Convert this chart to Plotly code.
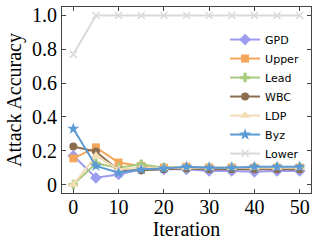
import plotly.graph_objects as go

iterations = [0, 5, 10, 15, 20, 25, 30, 35, 40, 45, 50]
gpd = [0.17, 0.04, 0.06, 0.09, 0.09, 0.09, 0.08, 0.08, 0.075, 0.08, 0.08]
upper = [0.155, 0.22, 0.13, 0.11, 0.10, 0.105, 0.10, 0.10, 0.10, 0.10, 0.10]
lead = [0.0, 0.125, 0.10, 0.12, 0.10, 0.10, 0.10, 0.10, 0.10, 0.10, 0.10]
wbc = [0.225, 0.195, 0.085, 0.085, 0.09, 0.095, 0.09, 0.09, 0.09, 0.09, 0.09]
ldp = [0.0, 0.17, 0.09, 0.10, 0.10, 0.10, 0.10, 0.10, 0.10, 0.10, 0.10]
byz = [0.33, 0.11, 0.07, 0.09, 0.095, 0.105, 0.10, 0.10, 0.105, 0.105, 0.105]
lower = [0.77, 1.0, 1.0, 1.0, 1.0, 1.0, 1.0, 1.0, 1.0, 1.0, 1.0]

y_ticks = [0, 0.2, 0.4, 0.6, 0.8, 1.0]
y_tick_labels = ["0", "0.2", "0.4", "0.6", "0.8", "1.0"]
x_ticks = [0, 10, 20, 30, 40, 50]

series = [
    ("GPD", gpd, "#9d9df0", "diamond", 9),
    ("Upper", upper, "#f5a65b", "square", 8),
    ("Lead", lead, "#a8cb7d", "cross", 8),
    ("WBC", wbc, "#8c6d4f", "circle", 8),
    ("LDP", ldp, "#f3dcb6", "triangle-up", 9),
    ("Byz", byz, "#5b9bd5", "star", 9),
    ("Lower", lower, "#d9d9d9", "x-thin", 7),
]

fig = go.Figure()
for name, vals, color, sym, size in series:
    marker = dict(symbol=sym, size=size, color=color)
    if sym == "x-thin":
        marker["line"] = dict(color=color, width=1.5)
    fig.add_trace(go.Scatter(
        x=iterations, y=vals, name=name, mode="lines+markers",
        line=dict(color=color, width=2), marker=marker,
    ))

serif = "Liberation Serif"
axis_common = dict(
    showline=True, linecolor="#444444", linewidth=1.2, mirror="ticks",
    ticks="inside", ticklen=4, tickcolor="#444444", showgrid=False, zeroline=False,
    automargin=False,
    tickfont=dict(family=serif, size=20, color="black"),
)

fig.update_layout(
    width=319, height=248,
    margin=dict(l=62, r=8, t=7, b=55),
    paper_bgcolor="white", plot_bgcolor="white",
    xaxis=dict(range=[-2.5, 52.5], tickvals=x_ticks, ticklabelstandoff=-4,
               title=dict(text="Iteration", font=dict(family=serif, size=20, color="black"), standoff=0),
               **axis_common),
    yaxis=dict(range=[-0.05, 1.05], tickvals=y_ticks, ticktext=y_tick_labels,
               title=dict(text="Attack Accuracy", font=dict(family=serif, size=20, color="black"), standoff=4),
               **axis_common),
    legend=dict(x=0.655, y=0.903, xanchor="left", yanchor="top",
                font=dict(family="DejaVu Sans", size=11, color="black"),
                bgcolor="rgba(255,255,255,0)", borderwidth=0),
    showlegend=True,
)

fig.write_html("out.html", config={"displayModeBar": False},
               post_script="document.body.style.margin='0';document.body.style.overflow='hidden';")
